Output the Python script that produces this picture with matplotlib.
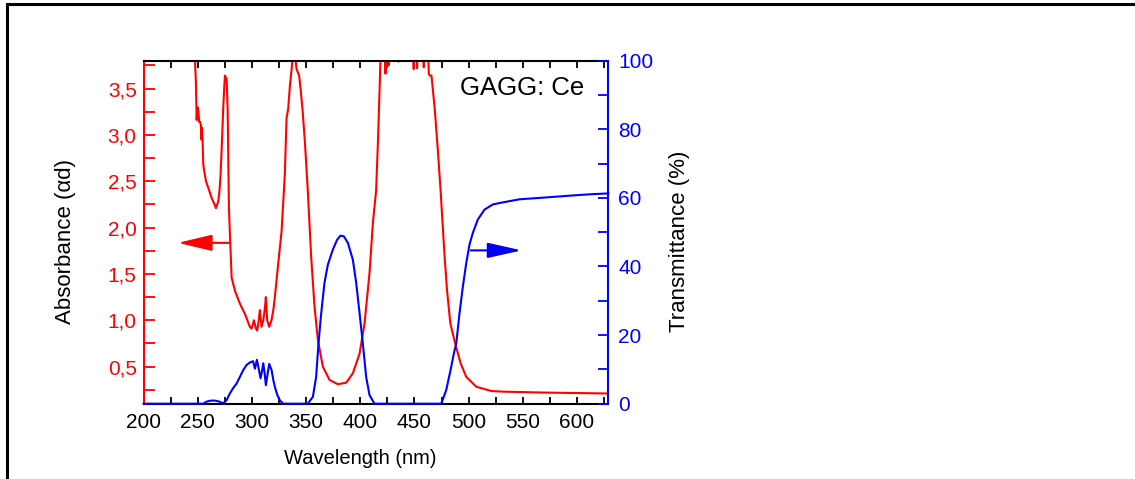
import matplotlib
matplotlib.use("Agg")
import matplotlib.pyplot as plt
from matplotlib.patches import Rectangle
from matplotlib.ticker import MultipleLocator, FuncFormatter

plt.rcParams["font.family"] = ["Liberation Sans", "DejaVu Sans"]

RED = "#ff0000"
BLUE = "#0000ff"

# (wavelength nm, absorbance alpha*d); values above 3.8 run off the top of the axes
abs_points = [
    (200, 4.2), (244, 4.2), (245.5, 3.9), (247, 3.9), (248.2, 3.57), (248.9, 3.16),
    (249.6, 3.3), (250.4, 3.27), (251.2, 3.14), (252, 3.14), (252.8, 3.11), (253.3, 2.95),
    (253.8, 3.08), (254.4, 2.93), (255, 2.68), (256, 2.6), (257.5, 2.5), (259.6, 2.43),
    (262.7, 2.32), (265, 2.26), (266.7, 2.21), (268.8, 2.28), (270, 2.4), (271, 2.57),
    (272.5, 3.0), (273.4, 3.28), (274.3, 3.5), (275, 3.64), (276.6, 3.6), (277.5, 3.28),
    (278.7, 2.21), (279.6, 1.93), (281.2, 1.46), (284.2, 1.32), (288.8, 1.18), (293.4, 1.07),
    (298, 0.93), (299.6, 0.91), (301.8, 1.0), (303.6, 0.91), (304.8, 0.89), (306, 0.98),
    (307.3, 1.11), (308.8, 0.93), (310.4, 1.0), (311.8, 1.12), (312.8, 1.25), (314, 1.0),
    (315.9, 0.93), (318, 1.0), (319.8, 1.12), (321.1, 1.25), (324.2, 1.61), (327.3, 1.96),
    (330.3, 2.57), (331.9, 3.18), (333.4, 3.28), (335, 3.53), (336.5, 3.7), (338, 3.9),
    (339.6, 3.9), (341.1, 3.71), (343.5, 3.64), (344.8, 3.5), (346.6, 3.28), (348.8, 2.93),
    (351.5, 2.40), (354.6, 1.69), (357.7, 1.15), (360.8, 0.79), (365.4, 0.50), (371.6, 0.356),
    (379.3, 0.31), (387, 0.327), (393.1, 0.428), (399.3, 0.64), (403.9, 0.967), (408.5, 1.51),
    (411.6, 2.05), (414.6, 2.40), (416.5, 3.0), (418.6, 3.8), (419.5, 3.9),
    (422.5, 4.0), (423.2, 3.66), (424, 4.0), (425.8, 4.0), (426.3, 3.75),
    (427, 4.0), (434.5, 4.0), (435, 3.79), (435.5, 4.0), (448.8, 4.0), (449.3, 3.71),
    (449.8, 4.0), (452, 4.0), (452.4, 3.72), (452.9, 4.0), (458.2, 4.0), (458.6, 3.73),
    (459, 4.0), (462.5, 4.0), (463.2, 3.66), (464.1, 3.64), (465.7, 3.64), (468.7, 3.28),
    (471.8, 2.8), (474.1, 2.40), (477.8, 1.69), (480.0, 1.33), (483.1, 0.967), (487.6, 0.75),
    (492.6, 0.536), (497.8, 0.39), (507.1, 0.283), (520.9, 0.237), (531.7, 0.23),
    (547.1, 0.226), (570, 0.22), (600, 0.215), (629, 0.21),
]

# (wavelength nm, transmittance %)
trans_points = [
    (200, 0), (255, 0), (258, 0.6), (262, 0.9), (266, 0.9), (270, 0.6), (273, 0.1),
    (276.5, 1.0), (279.6, 3.0), (282.5, 4.5), (285.8, 5.9), (288.8, 7.8), (291.9, 9.8),
    (295, 11.3), (298, 12.0), (301, 12.4), (302.7, 10.2), (304.5, 12.8), (306, 10.5),
    (307.9, 7.4), (309.2, 9.5), (310.4, 11.8), (311.6, 9.0), (312.8, 5.4), (314.3, 8.5),
    (315.9, 11.6), (318.1, 9.8), (319.6, 7.0), (321.1, 4.9), (323.4, 2.5), (325.7, 1.0),
    (328.8, 0), (351.5, 0), (356.2, 2.0), (359.2, 7.8), (361.4, 17.6), (363.9, 26.4),
    (366.9, 35.2), (370, 40.5), (374.6, 44.9), (378.6, 47.8), (381.7, 49.0), (384.8, 48.8),
    (388.5, 46.9), (393.1, 42.0), (396.2, 35.2), (399.3, 26.4), (402.3, 17.6), (405.4, 7.8),
    (408.5, 2.5), (413.1, 0), (474.7, 0), (479.3, 3.95), (483.3, 9.8), (486.4, 14.7),
    (488.6, 17.6), (491.6, 26.4), (494.7, 34.2), (497.8, 41.0), (500.8, 46.4), (503.9, 49.8),
    (508.5, 53.7), (514.7, 56.6), (522.4, 58.1), (530.1, 58.6), (547.1, 59.6),
    (556.4, 59.8), (570, 60.1), (587.1, 60.5), (600, 60.8), (615, 61.1), (629, 61.3),
]

wl_abs, absorb = zip(*abs_points)
wl_trans, trans = zip(*trans_points)

fig = plt.figure(figsize=(11.35, 4.79), dpi=100)
fig.patches.append(Rectangle((6.5 / 1135, -0.1), 1.2, 1.1 - 4.5 / 479, transform=fig.transFigure,
                             fill=False, edgecolor="black", linewidth=2.2, clip_on=False))

ax = fig.add_axes([0.1266, 0.1572, 0.4094, 0.7161])
ax2 = ax.twinx()

ax.plot(wl_abs, absorb, color=RED, lw=1.5)
ax2.plot(wl_trans, trans, color=BLUE, lw=1.5, clip_on=False, zorder=5)

ax.set_xlim(200, 629)
ax.set_ylim(0.1, 3.8)
ax2.set_ylim(0, 100)

ax.xaxis.set_major_locator(MultipleLocator(50))
ax.xaxis.set_minor_locator(MultipleLocator(25))
ax.yaxis.set_major_locator(MultipleLocator(0.5))
ax.yaxis.set_minor_locator(MultipleLocator(0.25))
ax2.yaxis.set_major_locator(MultipleLocator(20))
ax2.yaxis.set_minor_locator(MultipleLocator(10))
ax.yaxis.set_major_formatter(FuncFormatter(lambda v, p: f"{v:.1f}".replace(".", ",")))

for s in ax.spines.values():
    s.set_linewidth(1.5)
for s in ax2.spines.values():
    s.set_linewidth(1.5)
ax.spines["left"].set_color(RED)
ax.spines["right"].set_visible(False)
ax2.spines["left"].set_visible(False)
ax2.spines["top"].set_visible(False)
ax2.spines["bottom"].set_visible(False)
ax2.spines["right"].set_color(BLUE)

ax.tick_params(axis="x", which="both", direction="in", top=True, length=5, width=1.3,
               labelsize=15, pad=7, color="black")
ax.tick_params(axis="y", which="both", direction="in", length=8, width=1.3,
               labelsize=15, pad=5, color=RED, labelcolor=RED)
ax2.tick_params(axis="y", which="both", direction="in", length=7, width=1.3,
                labelsize=15, pad=7, color=BLUE, labelcolor=BLUE)

ax.set_xlabel("Wavelength (nm)", fontsize=14.5)
ax.xaxis.set_label_coords(0.4656, -0.133)
ax.set_ylabel("Absorbance (\u03b1d)", fontsize=16)
ax.yaxis.set_label_coords(-0.145, 0.474)
ax2.set_ylabel("Transmittance (%)", fontsize=16)
ax2.yaxis.set_label_coords(1.131, 0.474)

ax.text(0.681, 0.9, "GAGG: Ce", transform=ax.transAxes, fontsize=18.5, va="baseline")

ax.annotate("", xy=(231.6, 1.835), xytext=(279.6, 1.835),
            arrowprops=dict(arrowstyle="-|>,head_length=2.1,head_width=0.5", color=RED,
                            lw=1.5, mutation_scale=10, shrinkA=0, shrinkB=0))
ax2.annotate("", xy=(549, 44.7), xytext=(502, 44.7),
             arrowprops=dict(arrowstyle="-|>,head_length=2.1,head_width=0.47", color=BLUE,
                             lw=1.5, mutation_scale=10, shrinkA=0, shrinkB=0))

fig.savefig("out.png", dpi=100)
